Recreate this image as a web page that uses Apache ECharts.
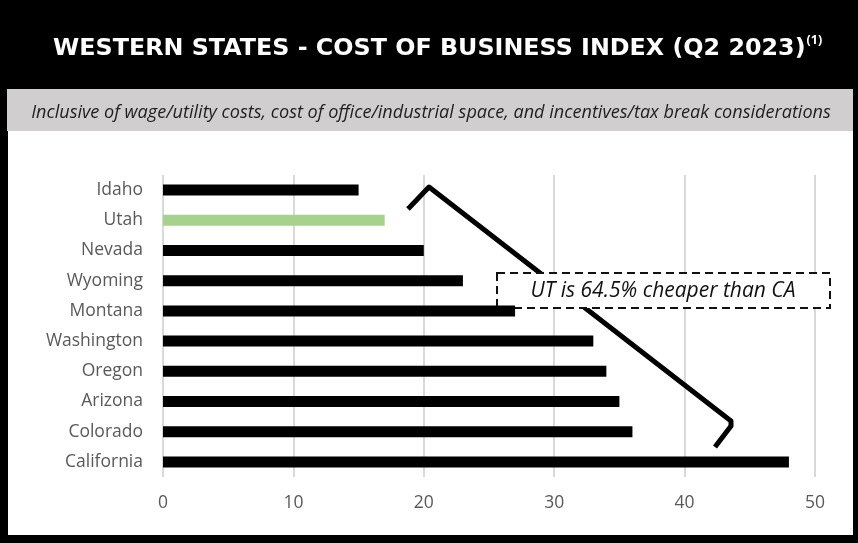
<!DOCTYPE html>
<html>
<head>
<meta charset="utf-8">
<script src="https://cdn.jsdelivr.net/npm/echarts@6/dist/echarts.min.js"></script>
<style>
  html, body { margin: 0; padding: 0; background: #000; }
  #chart { width: 858px; height: 543px; }
</style>
</head>
<body>
<div id="chart"></div>
<script>
// Cost of Business Index by western state, Q2 2023 (lower = cheaper)
const states = ['Idaho', 'Utah', 'Nevada', 'Wyoming', 'Montana', 'Washington', 'Oregon', 'Arizona', 'Colorado', 'California'];
const indexValues = [15, 17, 20, 23, 27, 33, 34, 35, 36, 48];
const axisTicks = [0, 10, 20, 30, 40, 50];
const highlightState = 'Utah';

const titleText = 'WESTERN STATES - COST OF BUSINESS INDEX (Q2 2023)';
const titleNote = '(1)';
const subtitleText = 'Inclusive of wage/utility costs, cost of office/industrial space, and incentives/tax break considerations';
const calloutText = 'UT is 64.5% cheaper than CA';

const chart = echarts.init(document.getElementById('chart'), null, { renderer: 'canvas' });

const uiFont = '"Open Sans", "Noto Sans", sans-serif';

chart.setOption({
  backgroundColor: '#000',
  animation: false,
  title: {
    left: 48,
    top: 29,
    text: '{t|' + titleText + '}{n|' + titleNote + '}',
    textStyle: {
      rich: {
        t: { fontFamily: '"DejaVu Sans", sans-serif', fontWeight: 'bold', fontSize: 23.8, color: '#fff', lineHeight: 30 },
        n: { fontFamily: uiFont, fontSize: 12.5, color: '#fff', verticalAlign: 'top', lineHeight: 14, padding: [0, 0, 0, 1] }
      }
    }
  },
  graphic: [
    // white panel behind the plot
    { type: 'rect', shape: { x: 8, y: 131, width: 845, height: 404 }, style: { fill: '#fff' }, z: -10, silent: true },
    // grey subtitle band
    { type: 'rect', shape: { x: 7, y: 89, width: 846, height: 42 }, style: { fill: '#d0cece' }, z: -10, silent: true },
    {
      type: 'text', z: 5, silent: true, x: 431, y: 113,
      style: { text: subtitleText, fontFamily: uiFont, fontStyle: 'italic', fontSize: 18.1, fill: '#1f1f1f', align: 'center', verticalAlign: 'middle' }
    },
    // bracket spanning Utah to California
    {
      type: 'polyline', z: 1, silent: true,
      shape: { points: [[408, 209], [429, 187], [731, 421], [731, 426], [715, 447]] },
      style: { stroke: '#000', lineWidth: 5, fill: null, lineJoin: 'round', lineCap: 'butt' }
    },
    // dashed callout box
    {
      type: 'rect', z: 2, silent: true,
      shape: { x: 497, y: 273, width: 333, height: 35 },
      style: { fill: '#fff', stroke: '#111', lineWidth: 2, lineDash: [8, 5] }
    },
    {
      type: 'text', z: 3, silent: true, x: 663, y: 291,
      style: { text: calloutText, fontFamily: uiFont, fontStyle: 'italic', fontSize: 21, fill: '#111', align: 'center', verticalAlign: 'middle' }
    }
  ],
  grid: { left: 163, right: 43, top: 175, bottom: 66, containLabel: false },
  xAxis: {
    type: 'value',
    min: axisTicks[0],
    max: axisTicks[axisTicks.length - 1],
    interval: axisTicks[1] - axisTicks[0],
    axisLine: { show: false },
    axisTick: { show: false },
    splitLine: { show: true, lineStyle: { color: '#d9d9d9', width: 2 } },
    axisLabel: { color: '#595959', fontFamily: uiFont, fontSize: 17.5, margin: 17 }
  },
  yAxis: {
    type: 'category',
    data: states,
    inverse: true,
    axisLine: { show: false },
    axisTick: { show: false },
    axisLabel: { color: '#595959', fontFamily: uiFont, fontSize: 17.5, margin: 20 }
  },
  series: [{
    type: 'bar',
    data: indexValues,
    barWidth: 11,
    z: 4,
    itemStyle: {
      color: (p) => (p.name === highlightState ? '#a9d18e' : '#000')
    }
  }]
});
</script>
</body>
</html>
